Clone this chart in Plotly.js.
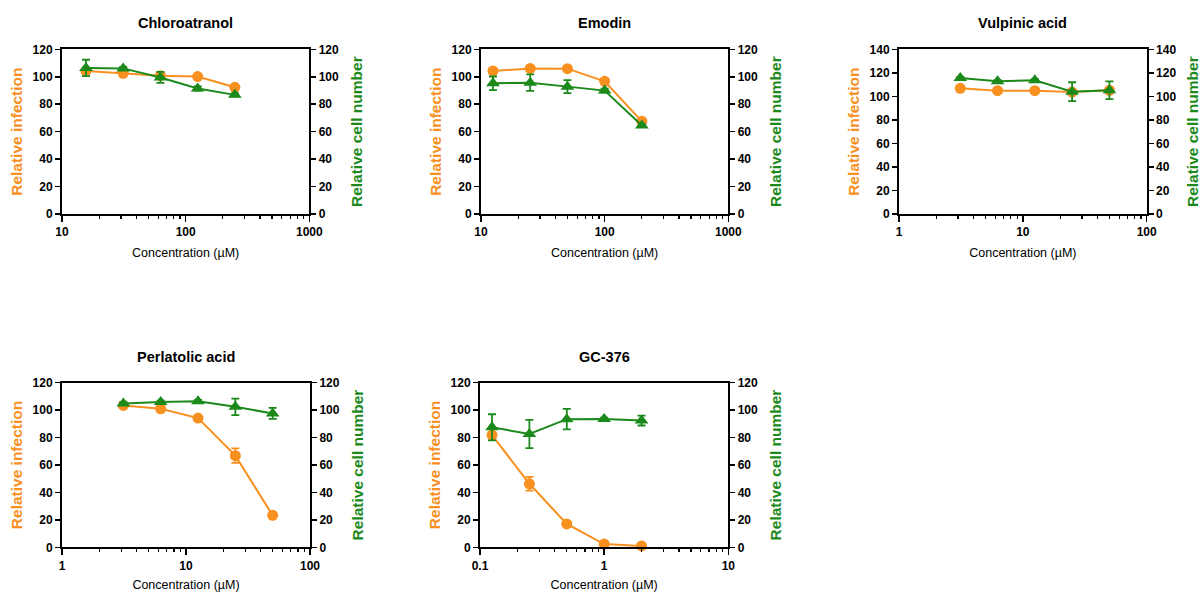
<!DOCTYPE html>
<html>
<head>
<meta charset="utf-8">
<script src="https://cdn.plot.ly/plotly-3.0.1.min.js"></script>
<style>html,body{margin:0;padding:0;background:#fff;}#chart{width:1201px;height:592px;}</style>
</head>
<body>
<div id="chart"></div>
<script>
// ---- Data ----
const titles = ["Chloroatranol", "Emodin", "Vulpinic acid", "Perlatolic acid", "GC-376"];

const concChloro = [15.625, 31.25, 62.5, 125, 250];
const infChloro = [104.2, 102.5, 100.8, 100.1, 92.3];
const infChloroErr = [1.5, 1.2, 2.0, 1.0, 1.0];
const cellChloro = [106.4, 106.1, 99.5, 91.5, 86.8];
const cellChloroErr = [6.0, 1.0, 4.0, 1.5, 1.0];

const concEmodin = [12.5, 25, 50, 100, 200];
const infEmodin = [104.2, 106.1, 105.9, 96.7, 67.5];
const infEmodinErr = [1.0, 1.0, 1.0, 1.5, 1.0];
const cellEmodin = [95.2, 95.7, 92.8, 89.9, 64.5];
const cellEmodinErr = [5.0, 6.0, 4.8, 1.5, 1.0];

const concVulp = [3.125, 6.25, 12.5, 25, 50];
const infVulp = [106.8, 104.8, 104.8, 103.6, 105.2];
const infVulpErr = [1.0, 1.0, 1.0, 1.0, 1.0];
const cellVulp = [115.6, 112.8, 113.6, 104.0, 105.2];
const cellVulpErr = [1.0, 1.0, 1.0, 8.0, 7.5];

const concPerl = [3.125, 6.25, 12.5, 25, 50];
const infPerl = [103.4, 101.0, 94.2, 66.8, 23.3];
const infPerlErr = [1.0, 1.0, 1.0, 5.3, 1.0];
const cellPerl = [104.8, 105.9, 106.4, 102.4, 97.6];
const cellPerlErr = [1.0, 1.0, 1.0, 6.0, 4.0];

const concGC = [0.125, 0.25, 0.5, 1, 2];
const infGC = [81.8, 46.3, 17.0, 2.4, 1.0];
const infGCErr = [1.0, 5.0, 1.0, 1.0, 0.5];
const cellGC = [87.5, 82.6, 93.4, 93.5, 92.4];
const cellGCErr = [9.5, 10.3, 7.5, 1.0, 3.6];

const xRangesLog = [[1, 3], [1, 3], [0, 2], [0, 2], [-1, 1]];
const xTickVals = [[10, 100, 1000], [10, 100, 1000], [1, 10, 100], [1, 10, 100], [0.1, 1, 10]];
const xTickText = [["10", "100", "1000"], ["10", "100", "1000"], ["1", "10", "100"], ["1", "10", "100"], ["0.1", "1", "10"]];
const yMax = [120, 120, 140, 120, 120];

const concs = [concChloro, concEmodin, concVulp, concPerl, concGC];
const infs = [infChloro, infEmodin, infVulp, infPerl, infGC];
const infErrs = [infChloroErr, infEmodinErr, infVulpErr, infPerlErr, infGCErr];
const cells = [cellChloro, cellEmodin, cellVulp, cellPerl, cellGC];
const cellErrs = [cellChloroErr, cellEmodinErr, cellVulpErr, cellPerlErr, cellGCErr];

// ---- Styling / layout ----
const ORANGE = "#F8901F";
const GREEN = "#1B8A1B";
const W = 1201, H = 592;
const boxes = [
  {l: 62, r: 309.3, t: 49.3, b: 214},
  {l: 481, r: 728.3, t: 49.3, b: 214},
  {l: 899, r: 1146.7, t: 49.3, b: 214},
  {l: 62, r: 310, t: 382.7, b: 547.3},
  {l: 480, r: 728.3, t: 382.7, b: 547.3}
];

const traces = [];
const layout = {
  width: W, height: H,
  margin: {l: 0, r: 0, t: 0, b: 0},
  paper_bgcolor: "#fff", plot_bgcolor: "rgba(0,0,0,0)",
  showlegend: false,
  font: {family: "Liberation Sans, Arial, sans-serif", color: "#000"},
  annotations: []
};

for (let i = 0; i < 5; i++) {
  const bx = boxes[i];
  const xd = [bx.l / W, bx.r / W];
  const yd = [1 - bx.b / H, 1 - bx.t / H];
  const xn = "x" + (i + 1);
  const yl = "y" + (2 * i + 1);
  const yr = "y" + (2 * i + 2);
  const xk = "xaxis" + (i + 1);
  const ylk = "yaxis" + (2 * i + 1);
  const yrk = "yaxis" + (2 * i + 2);

  const tickFont = {family: "Liberation Sans, Arial, sans-serif", size: 12, color: "#000", weight: "bold"};

  layout[xk] = {
    domain: xd, anchor: yl, type: "log", range: xRangesLog[i],
    tickvals: xTickVals[i], ticktext: xTickText[i],
    ticks: "outside", ticklen: 6, tickwidth: 1.5, tickcolor: "#000",
    minor: {ticks: "outside", ticklen: 3, tickwidth: 1.2, tickcolor: "#000", dtick: "D1"},
    showline: true, linecolor: "#000", linewidth: 2, mirror: true,
    showgrid: false, zeroline: false,
    tickfont: tickFont,
    title: {text: "Concentration (µM)", font: {size: 12.5, color: "#000"}, standoff: 10},
    fixedrange: true
  };
  const yTicks = [];
  for (let v = 0; v <= yMax[i]; v += 20) yTicks.push(v);
  layout[ylk] = {
    domain: yd, anchor: xn, range: [0, yMax[i]],
    tickvals: yTicks,
    ticks: "outside", ticklen: 5, tickwidth: 1.5, tickcolor: "#000",
    showline: true, linecolor: "#000", linewidth: 2,
    showgrid: false, zeroline: false,
    tickfont: tickFont,
    title: {text: "Relative infection", font: {size: 15.5, color: ORANGE, weight: "bold"}, standoff: 6},
    fixedrange: true
  };
  layout[yrk] = {
    domain: yd, anchor: xn, overlaying: yl, side: "right", range: [0, yMax[i]],
    tickvals: yTicks,
    ticks: "outside", ticklen: 5, tickwidth: 1.5, tickcolor: "#000",
    showline: true, linecolor: "#000", linewidth: 2,
    showgrid: false, zeroline: false,
    tickfont: tickFont,
    title: {text: "Relative cell number", font: {size: 15.5, color: GREEN, weight: "bold"}, standoff: 13},
    fixedrange: true
  };

  layout.annotations.push({
    xref: "paper", yref: "paper",
    x: (xd[0] + xd[1]) / 2, y: 1 - (bx.t - 26) / H,
    text: "<b>" + titles[i] + "</b>", showarrow: false,
    font: {size: 14.5, color: "#000"}, xanchor: "center", yanchor: "middle"
  });

  traces.push({
    x: concs[i], y: cells[i], xaxis: xn, yaxis: yr,
    type: "scatter", mode: "lines+markers",
    line: {color: GREEN, width: 2},
    marker: {symbol: "triangle-up", size: 12, color: GREEN},
    error_y: {type: "data", array: cellErrs[i], visible: true, color: GREEN, thickness: 1.8, width: 4},
    cliponaxis: false
  });
  traces.push({
    x: concs[i], y: infs[i], xaxis: xn, yaxis: yl,
    type: "scatter", mode: "lines+markers",
    line: {color: ORANGE, width: 2},
    marker: {symbol: "circle", size: 11, color: ORANGE},
    error_y: {type: "data", array: infErrs[i], visible: true, color: ORANGE, thickness: 1.8, width: 4},
    cliponaxis: false
  });
}

Plotly.newPlot("chart", traces, layout, {displayModeBar: false, staticPlot: true});
</script>
</body>
</html>
